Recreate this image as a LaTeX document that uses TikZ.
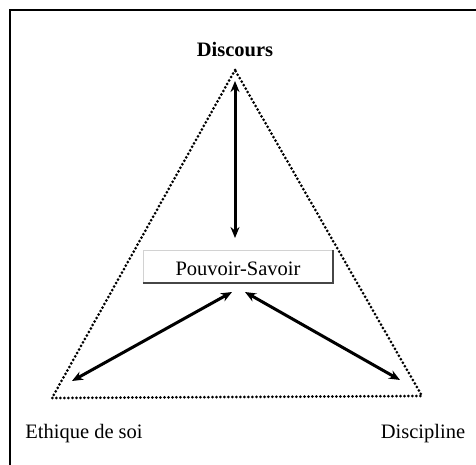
\documentclass[tikz,border=0pt]{standalone}
\usepackage{fontspec}
\setmainfont{Liberation Serif}
\usetikzlibrary{arrows.meta}
\begin{document}
\begin{tikzpicture}[x=1pt,y=-1pt,
  lbl/.style={font=\fontsize{20.5}{24}\selectfont, anchor=base, inner sep=0pt},
  dotline/.style={line width=3pt, line cap=round, dash pattern=on 0pt off 4pt},
  biarrow/.style={line width=3pt, {Stealth[length=11pt,width=9pt]}-{Stealth[length=11pt,width=9pt]}}]
\useasboundingbox (0,0) rectangle (476,465);
% frame
\draw[line width=2.8pt] (10,466) -- (10,10) -- (477,10);
% triangle corners
\coordinate (A) at (235,70);
\coordinate (B) at (52,398);
\coordinate (C) at (422,396);
\draw[dotline] (A) -- (B) -- (C) -- cycle;
% labels
\node[lbl, font=\fontsize{20.5}{24}\selectfont\bfseries] (disc) at (235,57) {Discours};
\node[lbl] (eth) at (84,438) {Ethique de soi};
\node[lbl] (dis) at (423,438) {Discipline};
% box
\node[draw=gray!35, line width=0.4pt, fill=white, minimum width=190pt, minimum height=33pt, inner sep=0pt] (ps) at (238,266.5) {};
\draw[line width=1.5pt, gray!55!black] (ps.south west) -- (ps.south east) -- (ps.north east);
\node[lbl] (pst) at (238,275) {Pouvoir-Savoir};
% arrow endpoints
\coordinate (t1) at (235,81);
\coordinate (t2) at (235,238);
\coordinate (l1) at (232,292);
\coordinate (l2) at (72,381);
\coordinate (r1) at (245,292);
\coordinate (r2) at (400,380);
\draw[biarrow] (t1) -- (t2);
\draw[biarrow] (l1) -- (l2);
\draw[biarrow] (r1) -- (r2);
\end{tikzpicture}
\end{document}
